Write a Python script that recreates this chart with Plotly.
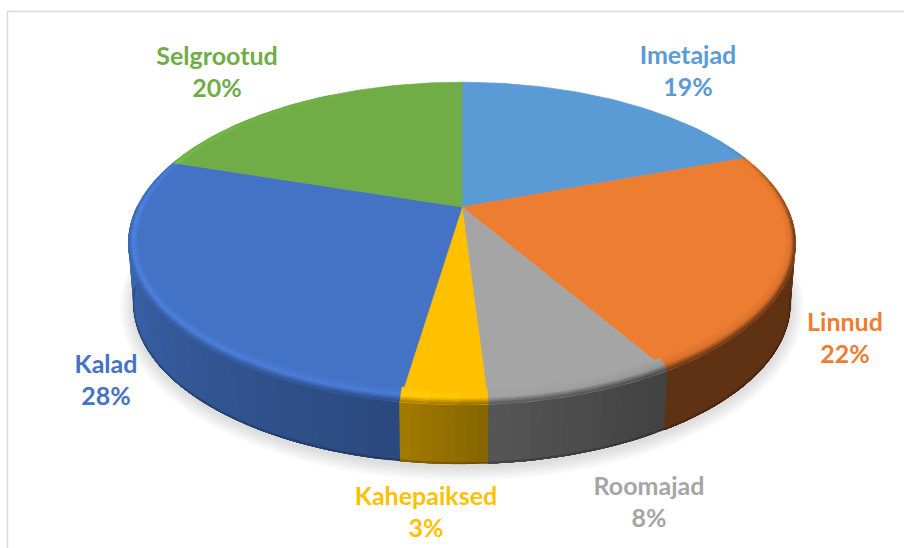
import numpy as np
import plotly.graph_objects as go

# Data (clockwise from 12 o'clock)
categories = ["Imetajad", "Linnud", "Roomajad", "Kahepaiksed", "Kalad", "Selgrootud"]
shares = [19.4, 22.1, 7.5, 3.4, 27.6, 20.0]
colors = ["#5B9BD5", "#ED7D31", "#A5A5A5", "#FFC000", "#4472C4", "#70AD47"]

# Drawing set-up (pixel-valued axes)
W, H = 904, 548
CX, CY, A, B, K = 462.0, 207.0, 325.0, 153.0, 0.226
WALL, WALL_SCALE = 59.5, 0.985
label_centres = [(688, 58), (845, 325), (649, 489), (426, 499), (106, 367), (217, 59)]
LINE_GAP = 32


def rgb(hexcol):
    return np.array([int(hexcol[i:i + 2], 16) for i in (1, 3, 5)], float)


def css(c):
    c = np.clip(c, 0, 255)
    return "rgb(%d,%d,%d)" % tuple(c)


def top(theta, r=1.0):
    """Project a pie-plane point (angle clockwise from the back, degrees)."""
    t = np.radians(theta)
    u, v = r * np.sin(t), r * np.cos(t)
    d = 1 + K * v
    return CX + A * u / d, CY - B * v / d


def inner(theta, r=0.972, lift=8.0):
    x, y = top(theta, r)
    return x, y - lift * np.maximum(0, -np.cos(np.radians(theta)))


def bottom(theta, grow=0.0, drop=WALL):
    x, y = top(theta)
    return (CX + (x - CX) * WALL_SCALE + grow * np.sign(x - CX) * np.abs(np.sin(np.radians(theta))),
            y + drop + grow * np.maximum(0, -np.cos(np.radians(theta))))


def wall_shade(theta):
    return np.interp(theta % 360, [0, 60, 80, 100, 150, 176, 188, 270, 290, 330, 360],
                     [1, 1, .7, .40, .40, .52, .64, .92, 1.0, 1, 1])


def mid_shade(theta):
    return np.interp(theta % 360, [0, 60, 100, 150, 176, 188, 270, 300, 360],
                     [1, 1, .92, .92, 1.0, 1.1, 1.17, 1.08, 1])


fig = go.Figure()


def poly(xs, ys, color, line=0.7):
    fig.add_trace(go.Scatter(x=list(xs) + [xs[0]], y=list(ys) + [ys[0]], mode="lines", fill="toself",
                             fillcolor=color, line=dict(color=color, width=line),
                             hoverinfo="skip", showlegend=False))


# soft shadow under the pie
ring = np.linspace(90, 270, 120)
for g in range(11, 0, -1):
    bx, by = bottom(ring, grow=g * 1.3, drop=WALL + 3)
    poly(list(bx), list(by), "rgba(0,0,0,0.011)", line=0)

edges = np.cumsum([0] + shares) / sum(shares) * 360

# side wall: each strip runs on to the end of its slice, the next one paints over it
for i, col in enumerate(colors):
    lo, hi = max(edges[i], 90), min(edges[i + 1], 270)
    if hi <= lo:
        continue
    n = max(1, int((hi - lo) / 1.5))
    ths = np.linspace(lo, hi, n + 1)
    base = rgb(col)
    for a, b in zip(ths[:-1], ths[1:]):
        seg = np.linspace(a, hi, max(2, int((hi - a) / 2) + 2))
        ax, ay = top(seg)
        bx, by = bottom(seg[::-1])
        poly(list(ax) + list(bx), list(ay) + list(by), css(base * wall_shade((a + b) / 2)), line=0)

# dark foot of the wall
foot = np.linspace(100, 262, 90)
fx, fy = bottom(foot)
fig.add_trace(go.Scatter(x=fx, y=fy - 1, mode="lines", line=dict(color="rgba(0,0,0,0.2)", width=2),
                         hoverinfo="skip", showlegend=False))

# top face
for i, col in enumerate(colors):
    ths = np.linspace(edges[i], edges[i + 1], max(3, int(edges[i + 1] - edges[i])))
    x, y = top(ths)
    poly([CX] + list(x), [CY] + list(y), col)

# bevel between top face and wall
bands = np.linspace(0, 1, 9)
for i, col in enumerate(colors):
    n = max(1, int((edges[i + 1] - edges[i]) / 3.5))
    ths = np.linspace(edges[i], edges[i + 1], n + 1)
    base = rgb(col)
    for a, b in zip(ths[:-1], ths[1:]):
        m = (a + b) / 2
        if 330 < m or m < 50:
            continue
        pair = np.array([a, b])
        ix, iy = inner(pair)
        ox, oy = top(pair)
        for t0, t1 in zip(bands[:-1], bands[1:]):
            tm = (t0 + t1) / 2
            sh = np.interp(tm, [0, .55, 1], [1, mid_shade(m), wall_shade(m)])
            xs = list(ix + (ox - ix) * t0) + list((ix + (ox - ix) * t1)[::-1])
            ys = list(iy + (oy - iy) * t0) + list((iy + (oy - iy) * t1)[::-1])
            poly(xs, ys, css(base * sh), line=0.5)

# labels
for name, share, col, (lx, ly) in zip(categories, shares, colors, label_centres):
    fig.add_trace(go.Scatter(x=[lx, lx], y=[ly, ly + LINE_GAP], mode="text",
                             text=[name, f"{round(share)}%"], textposition="middle center",
                             textfont=dict(family="Lato", size=25, color=col, weight="bold"),
                             hoverinfo="skip", showlegend=False))

fig.add_shape(type="line", x0=7.5, x1=7.5, y0=11.5, y1=H, line=dict(color="#D9D9D9", width=1.5))
fig.add_shape(type="line", x0=7.5, x1=W, y0=11.5, y1=11.5, line=dict(color="#D9D9D9", width=1.5))

fig.update_layout(width=W, height=H, margin=dict(l=0, r=0, t=0, b=0),
                  paper_bgcolor="white", plot_bgcolor="white", showlegend=False,
                  xaxis=dict(range=[0, W], visible=False, fixedrange=True),
                  yaxis=dict(range=[H, 0], visible=False, fixedrange=True))
fig.write_html("out.html", config=dict(displayModeBar=False),
               post_script="document.body.style.margin='0';document.documentElement.style.overflow='hidden';")
